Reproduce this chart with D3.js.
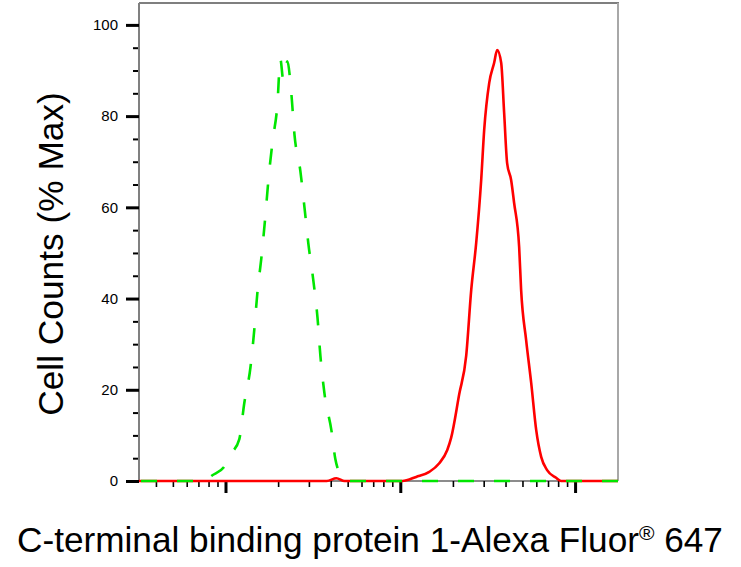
<!DOCTYPE html>
<html>
<head>
<meta charset="utf-8">
<script src="https://cdn.jsdelivr.net/npm/d3@7"></script>
<style>
  html, body { margin: 0; padding: 0; background: #fff; }
  svg { display: block; font-family: "Liberation Sans", Arial, sans-serif; }
</style>
</head>
<body>
<svg id="chart" width="741" height="567"></svg>
<script>
// ---- data ----
const xDomain = [32, 17600];           // fluorescence intensity (log axis)
const yDomain = [0, 104.8];            // % Max
const yMajorTicks = [0, 20, 40, 60, 80, 100];
const yMinorTicks = [5, 10, 15, 25, 30, 35, 45, 50, 55, 65, 70, 75, 85, 90, 95];
const xMajorTicks = [100, 1000, 10000];

// isotype control (green dashed)
const isoX = [32, 76, 83, 99, 108, 120, 128, 139, 146, 152, 161, 169, 176, 186, 198, 206, 214, 226, 238, 248, 268, 283, 298, 318, 336, 349, 368, 404, 425, 448, 472, 500, 17600];
const isoY = [0, 0, 1.1, 3.3, 6, 9.2, 17, 25, 33, 41, 49.5, 58, 66, 74.5, 82.4, 92.5, 88, 92, 85, 76, 68, 60, 52, 44, 35.8, 27.5, 19.3, 11, 4.8, 1.8, 0.3, 0, 0];

// C-terminal binding protein 1 stained (red solid)
const ctbpX = [32, 380, 431, 480, 865, 1026, 1233, 1465, 1671, 1857, 1955, 2173, 2383, 2546, 2718, 2903, 3020, 3227, 3444, 3582, 3777, 3928, 4085, 4306, 4478, 4786, 4912, 5248, 5609, 5990, 6397, 6918, 7787, 8318, 17600];
const ctbpY = [0, 0, 0.6, 0, 0, 0, 0.9, 2.0, 3.9, 6.8, 9.5, 19, 27.5, 41.9, 52.2, 66, 77, 87.3, 91.7, 94.5, 91.7, 80.7, 69.7, 66, 61, 51.3, 41.9, 30.9, 21.5, 11.2, 5.3, 2.4, 0.7, 0, 0];

const yLabelText = "Cell Counts (% Max)";
const xLabelMain = "C-terminal binding protein 1-Alexa Fluor";
const xLabelSup = "\u00AE";
const xLabelEnd = " 647";

// ---- layout ----
const plot = { left: 139, right: 618, top: 3, bottom: 481 };
const svg = d3.select("#chart");

const x = d3.scaleLog().domain(xDomain).range([plot.left, plot.right]);
const y = d3.scaleLinear().domain(yDomain).range([plot.bottom, plot.top]);

// frame
svg.append("line").attr("x1", plot.left).attr("x2", plot.right + 1).attr("y1", plot.top).attr("y2", plot.top)
  .attr("stroke", "#7f7f7f").attr("stroke-width", 2);
svg.append("line").attr("x1", plot.right).attr("x2", plot.right).attr("y1", plot.top).attr("y2", plot.bottom)
  .attr("stroke", "#a8a8a8").attr("stroke-width", 2);
svg.append("line").attr("x1", plot.left).attr("x2", plot.right).attr("y1", plot.bottom).attr("y2", plot.bottom)
  .attr("stroke", "#8c8c8c").attr("stroke-width", 2);

// y axis
const yAxisMinor = d3.axisLeft(y).tickValues(yMinorTicks).tickSize(6).tickFormat("");
const yAxisMajor = d3.axisLeft(y).tickValues(yMajorTicks).tickSize(13).tickPadding(8).tickFormat(d3.format("d"));
const gyMinor = svg.append("g").attr("transform", `translate(${plot.left},0)`).call(yAxisMinor);
gyMinor.select(".domain").remove();
gyMinor.selectAll(".tick line").attr("stroke", "#000").attr("stroke-width", 2);
const gy = svg.append("g").attr("transform", `translate(${plot.left},0)`).call(yAxisMajor);
gy.select(".domain").attr("stroke", "#808080").attr("stroke-width", 2).attr("d", `M0,${plot.top}V${plot.bottom + 1}`);
gy.selectAll(".tick line").attr("stroke", "#000").attr("stroke-width", 3);
gy.selectAll(".tick text").attr("font-size", 15).attr("fill", "#000")
  .attr("font-family", "'Liberation Sans', Arial, sans-serif");

// x axis
const xMinorVals = x.ticks().filter(v => !xMajorTicks.includes(v));
const xAxisMinor = d3.axisBottom(x).tickValues(xMinorVals).tickSize(6).tickFormat("");
const xAxisMajor = d3.axisBottom(x).tickValues(xMajorTicks).tickSize(12).tickFormat("");
const gxMinor = svg.append("g").attr("transform", `translate(0,${plot.bottom})`).call(xAxisMinor);
gxMinor.select(".domain").remove();
gxMinor.selectAll(".tick line").attr("stroke", "#000").attr("stroke-width", 1.6);
const gxMajor = svg.append("g").attr("transform", `translate(0,${plot.bottom})`).call(xAxisMajor);
gxMajor.select(".domain").remove();
gxMajor.selectAll(".tick line").attr("stroke", "#000").attr("stroke-width", 3);

// lines
const line = d3.line().x(d => x(d[0])).y(d => y(d[1])).curve(d3.curveMonotoneX);
const isoData = isoX.map((v, i) => [v, isoY[i]]);
const ctbpData = ctbpX.map((v, i) => [v, ctbpY[i]]);

svg.append("path").datum(ctbpData).attr("d", line)
  .attr("fill", "none").attr("stroke", "#ff0000").attr("stroke-width", 2.6).attr("stroke-linejoin", "round");
svg.append("path").datum(isoData).attr("d", line)
  .attr("fill", "none").attr("stroke", "#00e600").attr("stroke-width", 2.6)
  .attr("stroke-dasharray", "16,20").attr("stroke-dashoffset", -2);

// axis labels
svg.append("text")
  .attr("transform", `translate(63,254) rotate(-90)`)
  .attr("text-anchor", "middle").attr("font-size", 35.3).attr("fill", "#000")
  .text(yLabelText);

const xl = svg.append("text").attr("x", 370).attr("y", 552)
  .attr("text-anchor", "middle").attr("font-size", 35.2).attr("fill", "#000");
xl.append("tspan").text(xLabelMain);
xl.append("tspan").attr("font-size", 21).attr("dy", -12).text(xLabelSup);
xl.append("tspan").attr("dy", 12).text(xLabelEnd);
</script>
</body>
</html>
